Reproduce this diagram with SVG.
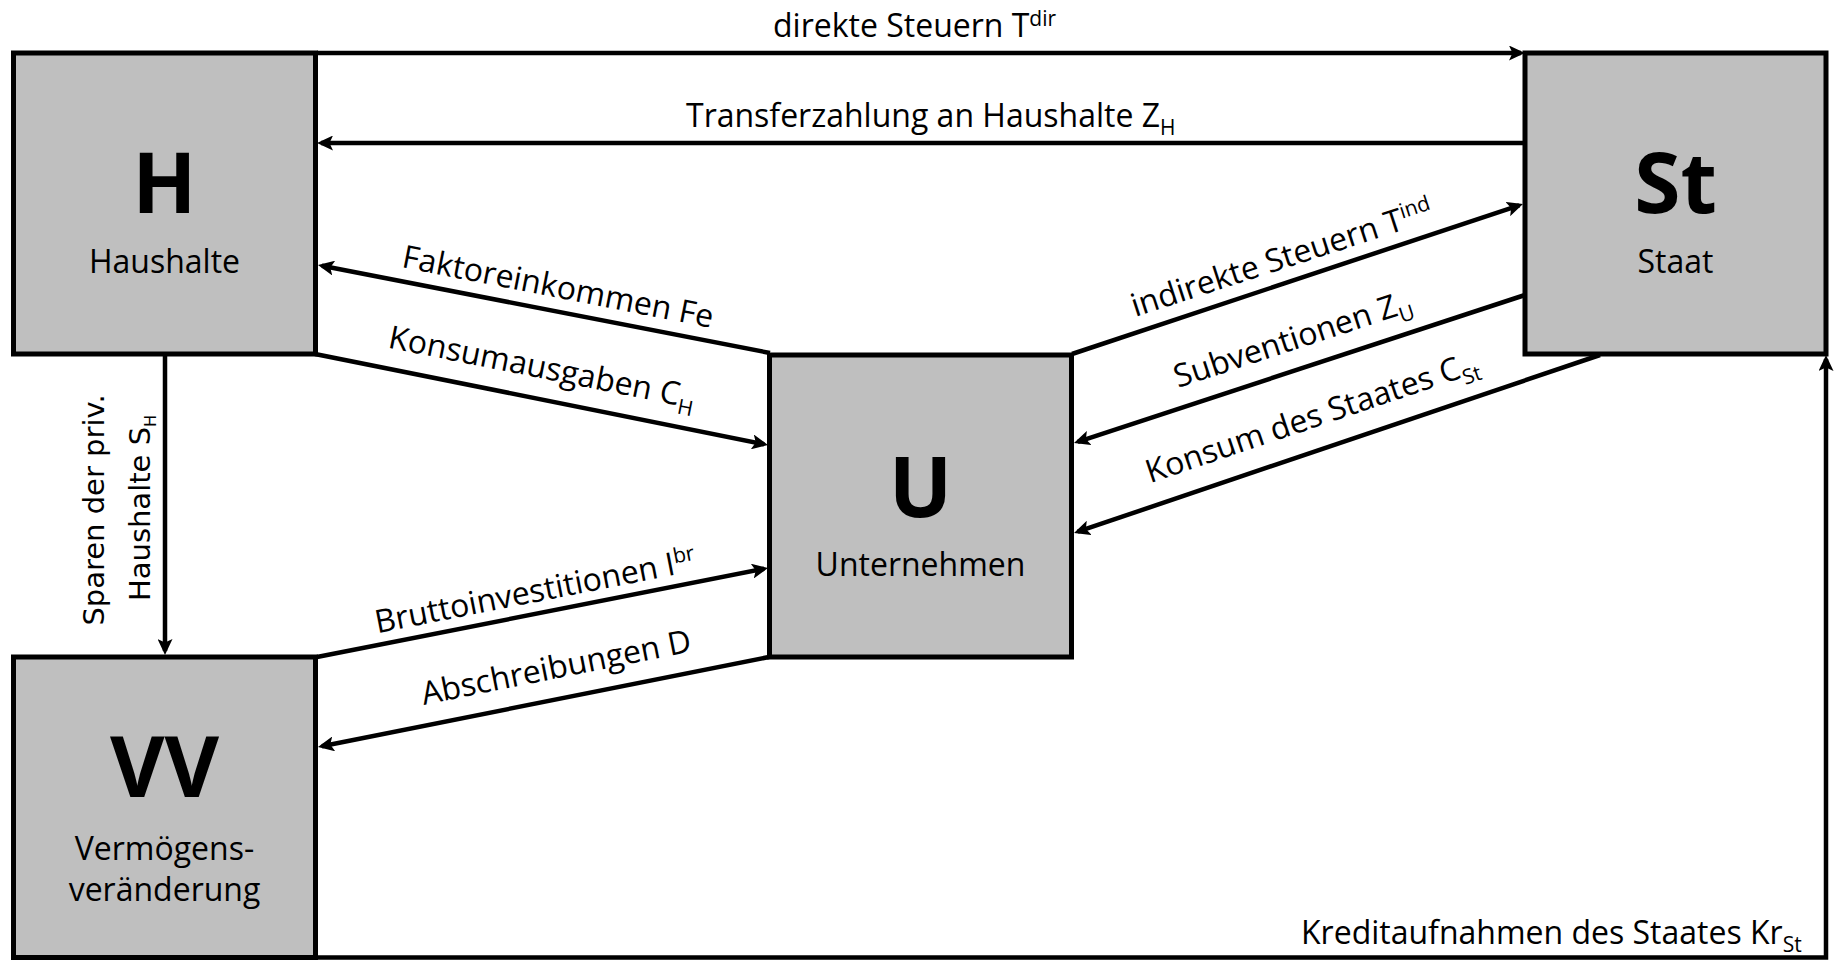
<svg xmlns="http://www.w3.org/2000/svg" width="1839" height="960" viewBox="0 0 1839 960">
<style>
.box{fill:#bfbfbf;stroke:#000;stroke-width:5}
.ln{fill:none;stroke:#000;stroke-width:4.5;marker-end:url(#ah)}
.lbl{font-family:"Open Sans","Noto Sans",sans-serif;font-size:32px;fill:#000}
.big{font-family:"Open Sans","Noto Sans",sans-serif;font-weight:700;font-size:84px;text-anchor:middle;fill:#000}
.name{font-family:"Open Sans","Noto Sans",sans-serif;font-size:32px;text-anchor:middle;fill:#000}
.mid{text-anchor:middle}
.dv{font-family:"DejaVu Sans",sans-serif;font-size:29px;fill:#000;text-anchor:middle}
</style>
<defs>
<marker id="ah" viewBox="0 0 16 15" refX="12" refY="7.5" markerWidth="16" markerHeight="15" markerUnits="userSpaceOnUse" orient="auto">
<path d="M0,0 L16,7.5 L0,15 L3.5,7.5 z" fill="#000"/>
</marker>
</defs>
<rect width="1839" height="960" fill="#fff"/>
<g id="connectors">
<path class="ln" d="M317,53 H1521"/>
<path class="ln" d="M1525,143 H321"/>
<path class="ln" d="M770,353 L321.9,265.8"/>
<path class="ln" d="M315,354 L764.1,444.2"/>
<path class="ln" d="M1072,354 L1519.2,205.3"/>
<path class="ln" d="M1525,295 L1077.8,441.8"/>
<path class="ln" d="M1600,355 L1077.8,531.7"/>
<path class="ln" d="M317,657 L764.1,568.8"/>
<path class="ln" d="M769,657 L321.9,746.2"/>
<path class="ln" d="M165,355 V651"/>
<path class="ln" d="M317,957.5 H1826 V359"/>
</g>
<g id="H">
<rect class="box" x="13.5" y="53" width="302" height="301"/>
<text class="big" x="164.5" y="213">H</text>
<text class="name" x="164.5" y="273">Haushalte</text>
</g>
<g id="St">
<rect class="box" x="1525" y="53" width="301" height="301"/>
<text class="big" x="1675.5" y="213">St</text>
<text class="name" x="1675.5" y="273">Staat</text>
</g>
<g id="U">
<rect class="box" x="769.5" y="355" width="302" height="302"/>
<text class="big" x="920.5" y="517">U</text>
<text class="name" x="920.5" y="576">Unternehmen</text>
</g>
<g id="VV">
<rect class="box" x="13.5" y="657" width="302" height="300.5"/>
<text class="big" x="164.5" y="797">VV</text>
<text class="name" x="164.5" y="860">Vermögens-</text>
<text class="name" x="164.5" y="901">veränderung</text>
</g>
<g id="labels">
<text class="lbl" x="773" y="37">direkte Steuern T<tspan font-size="21" dy="-11">dir</tspan></text>
<text class="lbl" x="686" y="127">Transferzahlung an Haushalte Z<tspan font-size="21" dy="8">H</tspan></text>
<text class="lbl mid" transform="translate(556,297.5) rotate(11.1)">Faktoreinkommen Fe</text>
<text class="lbl mid" transform="translate(540,378) rotate(11.3)">Konsumausgaben C<tspan font-size="21" dy="8">H</tspan></text>
<text class="lbl mid" transform="translate(1285,268.3) rotate(-18)">indirekte Steuern T<tspan font-size="21" dy="-11">ind</tspan></text>
<text class="lbl mid" transform="translate(1296,349.3) rotate(-18.2)">Subventionen Z<tspan font-size="21" dy="8">U</tspan></text>
<text class="lbl mid" transform="translate(1315.3,427.3) rotate(-18.7)">Konsum des Staates C<tspan font-size="21" dy="8">St</tspan></text>
<text class="lbl mid" transform="translate(537.4,601.7) rotate(-11.1)">Bruttoinvestitionen I<tspan font-size="21" dy="-11">br</tspan></text>
<text class="lbl mid" transform="translate(558.2,678) rotate(-11.3)">Abschreibungen D</text>
<text class="dv" transform="translate(103.5,510) rotate(-90)">Sparen der priv.</text>
<text class="dv" transform="translate(150,508) rotate(-90)">Haushalte S<tspan font-size="16" dy="6">H</tspan></text>
<text class="lbl" x="1301" y="944">Kreditaufnahmen des Staates Kr<tspan font-size="21" dy="8">St</tspan></text>
</g>
</svg>
